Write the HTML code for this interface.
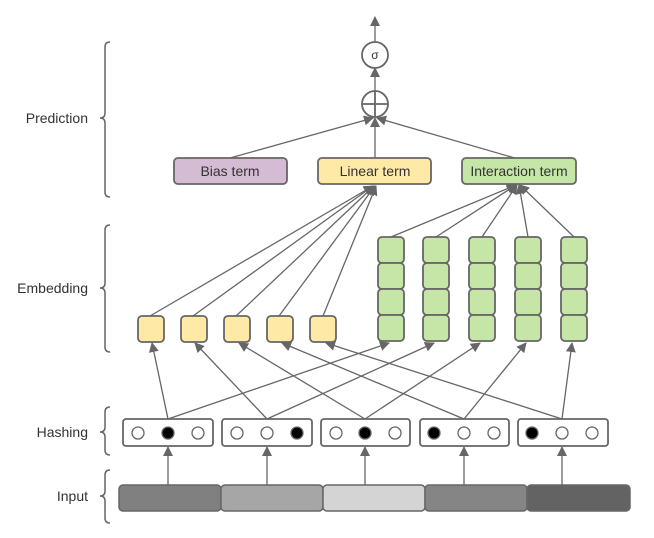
<!DOCTYPE html>
<html><head><meta charset="utf-8"><style>
html,body{margin:0;padding:0;background:#fff;}
svg{display:block;font-family:"Liberation Sans",sans-serif;}
</style></head><body>
<svg width="654" height="538" viewBox="0 0 654 538" xmlns="http://www.w3.org/2000/svg">
<defs><marker id="a" markerWidth="10" markerHeight="10" refX="9" refY="5" orient="auto" markerUnits="userSpaceOnUse"><path d="M0,0 L10,5 L0,10 z" fill="#666"/></marker></defs>
<g fill="none" stroke="#666" stroke-width="1.5">
<path d="M110,42 q-5,0 -5,5 v66 q0,5 -5,5 q5,0 5,5 v69 q0,5 5,5"/>
<path d="M110,225 q-5,0 -5,5 v53 q0,5 -5,5 q5,0 5,5 v54 q0,5 5,5"/>
<path d="M110,407 q-5,0 -5,5 v15 q0,5 -5,5 q5,0 5,5 v13 q0,5 5,5"/>
<path d="M110,470 q-5,0 -5,5 v16 q0,5 -5,5 q5,0 5,5 v17 q0,5 5,5"/>
</g>
<g font-size="14" fill="#333" text-anchor="end">
<text x="88" y="123">Prediction</text>
<text x="88" y="293">Embedding</text>
<text x="88" y="437">Hashing</text>
<text x="88" y="501">Input</text>
</g>
<g stroke="#666" stroke-width="1.3" fill="none" marker-end="url(#a)">
<line x1="375" y1="42" x2="375" y2="17"/>
<line x1="375" y1="91" x2="375" y2="68"/>
<line x1="230" y1="158" x2="373" y2="118"/>
<line x1="375" y1="158" x2="375" y2="118"/>
<line x1="518" y1="159" x2="377" y2="118"/>
<line x1="150" y1="316" x2="373" y2="186"/>
<line x1="193" y1="316" x2="373" y2="186"/>
<line x1="236" y1="316" x2="374" y2="186"/>
<line x1="279" y1="316" x2="375" y2="186"/>
<line x1="323" y1="316" x2="376" y2="186"/>
<line x1="391" y1="237" x2="516" y2="185"/>
<line x1="436" y1="237" x2="516" y2="185"/>
<line x1="482" y1="237" x2="517" y2="185"/>
<line x1="528" y1="237" x2="519" y2="185"/>
<line x1="574" y1="237" x2="520" y2="185"/>
<line x1="168" y1="419" x2="152" y2="343"/>
<line x1="168" y1="419" x2="389" y2="343"/>
<line x1="267" y1="419" x2="195" y2="343"/>
<line x1="267" y1="419" x2="434" y2="343"/>
<line x1="365" y1="419" x2="239" y2="343"/>
<line x1="365" y1="419" x2="480" y2="343"/>
<line x1="464" y1="419" x2="282" y2="343"/>
<line x1="464" y1="419" x2="526" y2="343"/>
<line x1="562" y1="419" x2="326" y2="343"/>
<line x1="562" y1="419" x2="572" y2="343"/>
<line x1="168" y1="485" x2="168" y2="447"/>
<line x1="267" y1="485" x2="267" y2="447"/>
<line x1="365" y1="485" x2="365" y2="447"/>
<line x1="464" y1="485" x2="464" y2="447"/>
<line x1="562" y1="485" x2="562" y2="447"/>
</g>
<g stroke="#666" stroke-width="1.8" fill="#fff">
<circle cx="375" cy="55" r="13"/>
<circle cx="375" cy="104" r="13"/>
</g>
<path d="M362,104 H388 M375,91 V117" stroke="#666" stroke-width="1.8"/>
<text x="375" y="59" font-size="12" text-anchor="middle" fill="#333">σ</text>
<g stroke="#666" stroke-width="1.8">
<rect x="174" y="158" width="113" height="26" rx="4" fill="#d5bcd5"/>
<rect x="318" y="158" width="113" height="26" rx="4" fill="#ffe9a6"/>
<rect x="462" y="158" width="114" height="26" rx="4" fill="#c6e6a8"/>
</g>
<g font-size="14" fill="#333" text-anchor="middle">
<text x="230" y="176">Bias term</text>
<text x="375" y="176">Linear term</text>
<text x="519" y="176">Interaction term</text>
</g>
<g stroke="#666" stroke-width="1.8" fill="#ffe9a6">
<rect x="138" y="316" width="26" height="26" rx="4"/>
<rect x="181" y="316" width="26" height="26" rx="4"/>
<rect x="224" y="316" width="26" height="26" rx="4"/>
<rect x="267" y="316" width="26" height="26" rx="4"/>
<rect x="310" y="316" width="26" height="26" rx="4"/>
</g>
<g stroke="#666" stroke-width="1.8" fill="#c6e6a8">
<rect x="378" y="237" width="26" height="26" rx="4"/><rect x="378" y="263" width="26" height="26" rx="4"/><rect x="378" y="289" width="26" height="26" rx="4"/><rect x="378" y="315" width="26" height="26" rx="4"/>
<rect x="423" y="237" width="26" height="26" rx="4"/><rect x="423" y="263" width="26" height="26" rx="4"/><rect x="423" y="289" width="26" height="26" rx="4"/><rect x="423" y="315" width="26" height="26" rx="4"/>
<rect x="469" y="237" width="26" height="26" rx="4"/><rect x="469" y="263" width="26" height="26" rx="4"/><rect x="469" y="289" width="26" height="26" rx="4"/><rect x="469" y="315" width="26" height="26" rx="4"/>
<rect x="515" y="237" width="26" height="26" rx="4"/><rect x="515" y="263" width="26" height="26" rx="4"/><rect x="515" y="289" width="26" height="26" rx="4"/><rect x="515" y="315" width="26" height="26" rx="4"/>
<rect x="561" y="237" width="26" height="26" rx="4"/><rect x="561" y="263" width="26" height="26" rx="4"/><rect x="561" y="289" width="26" height="26" rx="4"/><rect x="561" y="315" width="26" height="26" rx="4"/>
</g>
<g stroke="#666" stroke-width="1.8" fill="#fff">
<rect x="123" y="419" width="90" height="27" rx="3"/>
<rect x="222" y="419" width="90" height="27" rx="3"/>
<rect x="321" y="419" width="89" height="27" rx="3"/>
<rect x="420" y="419" width="89" height="27" rx="3"/>
<rect x="518" y="419" width="90" height="27" rx="3"/>
</g>
<g stroke="#666" stroke-width="1.3">
<circle cx="138" cy="433" r="6" fill="#fff"/><circle cx="168" cy="433" r="6" fill="#000"/><circle cx="198" cy="433" r="6" fill="#fff"/>
<circle cx="237" cy="433" r="6" fill="#fff"/><circle cx="267" cy="433" r="6" fill="#fff"/><circle cx="297" cy="433" r="6" fill="#000"/>
<circle cx="336" cy="433" r="6" fill="#fff"/><circle cx="365" cy="433" r="6" fill="#000"/><circle cx="395" cy="433" r="6" fill="#fff"/>
<circle cx="434" cy="433" r="6" fill="#000"/><circle cx="464" cy="433" r="6" fill="#fff"/><circle cx="494" cy="433" r="6" fill="#fff"/>
<circle cx="532" cy="433" r="6" fill="#000"/><circle cx="562" cy="433" r="6" fill="#fff"/><circle cx="592" cy="433" r="6" fill="#fff"/>
</g>
<g stroke="#666" stroke-width="1.5">
<rect x="119" y="485" width="102" height="26" rx="4" fill="#808080"/>
<rect x="221" y="485" width="102" height="26" rx="4" fill="#a6a6a6"/>
<rect x="323" y="485" width="102" height="26" rx="4" fill="#d4d4d4"/>
<rect x="425" y="485" width="102" height="26" rx="4" fill="#858585"/>
<rect x="527" y="485" width="103" height="26" rx="4" fill="#636363"/>
</g>
</svg>
</body></html>
